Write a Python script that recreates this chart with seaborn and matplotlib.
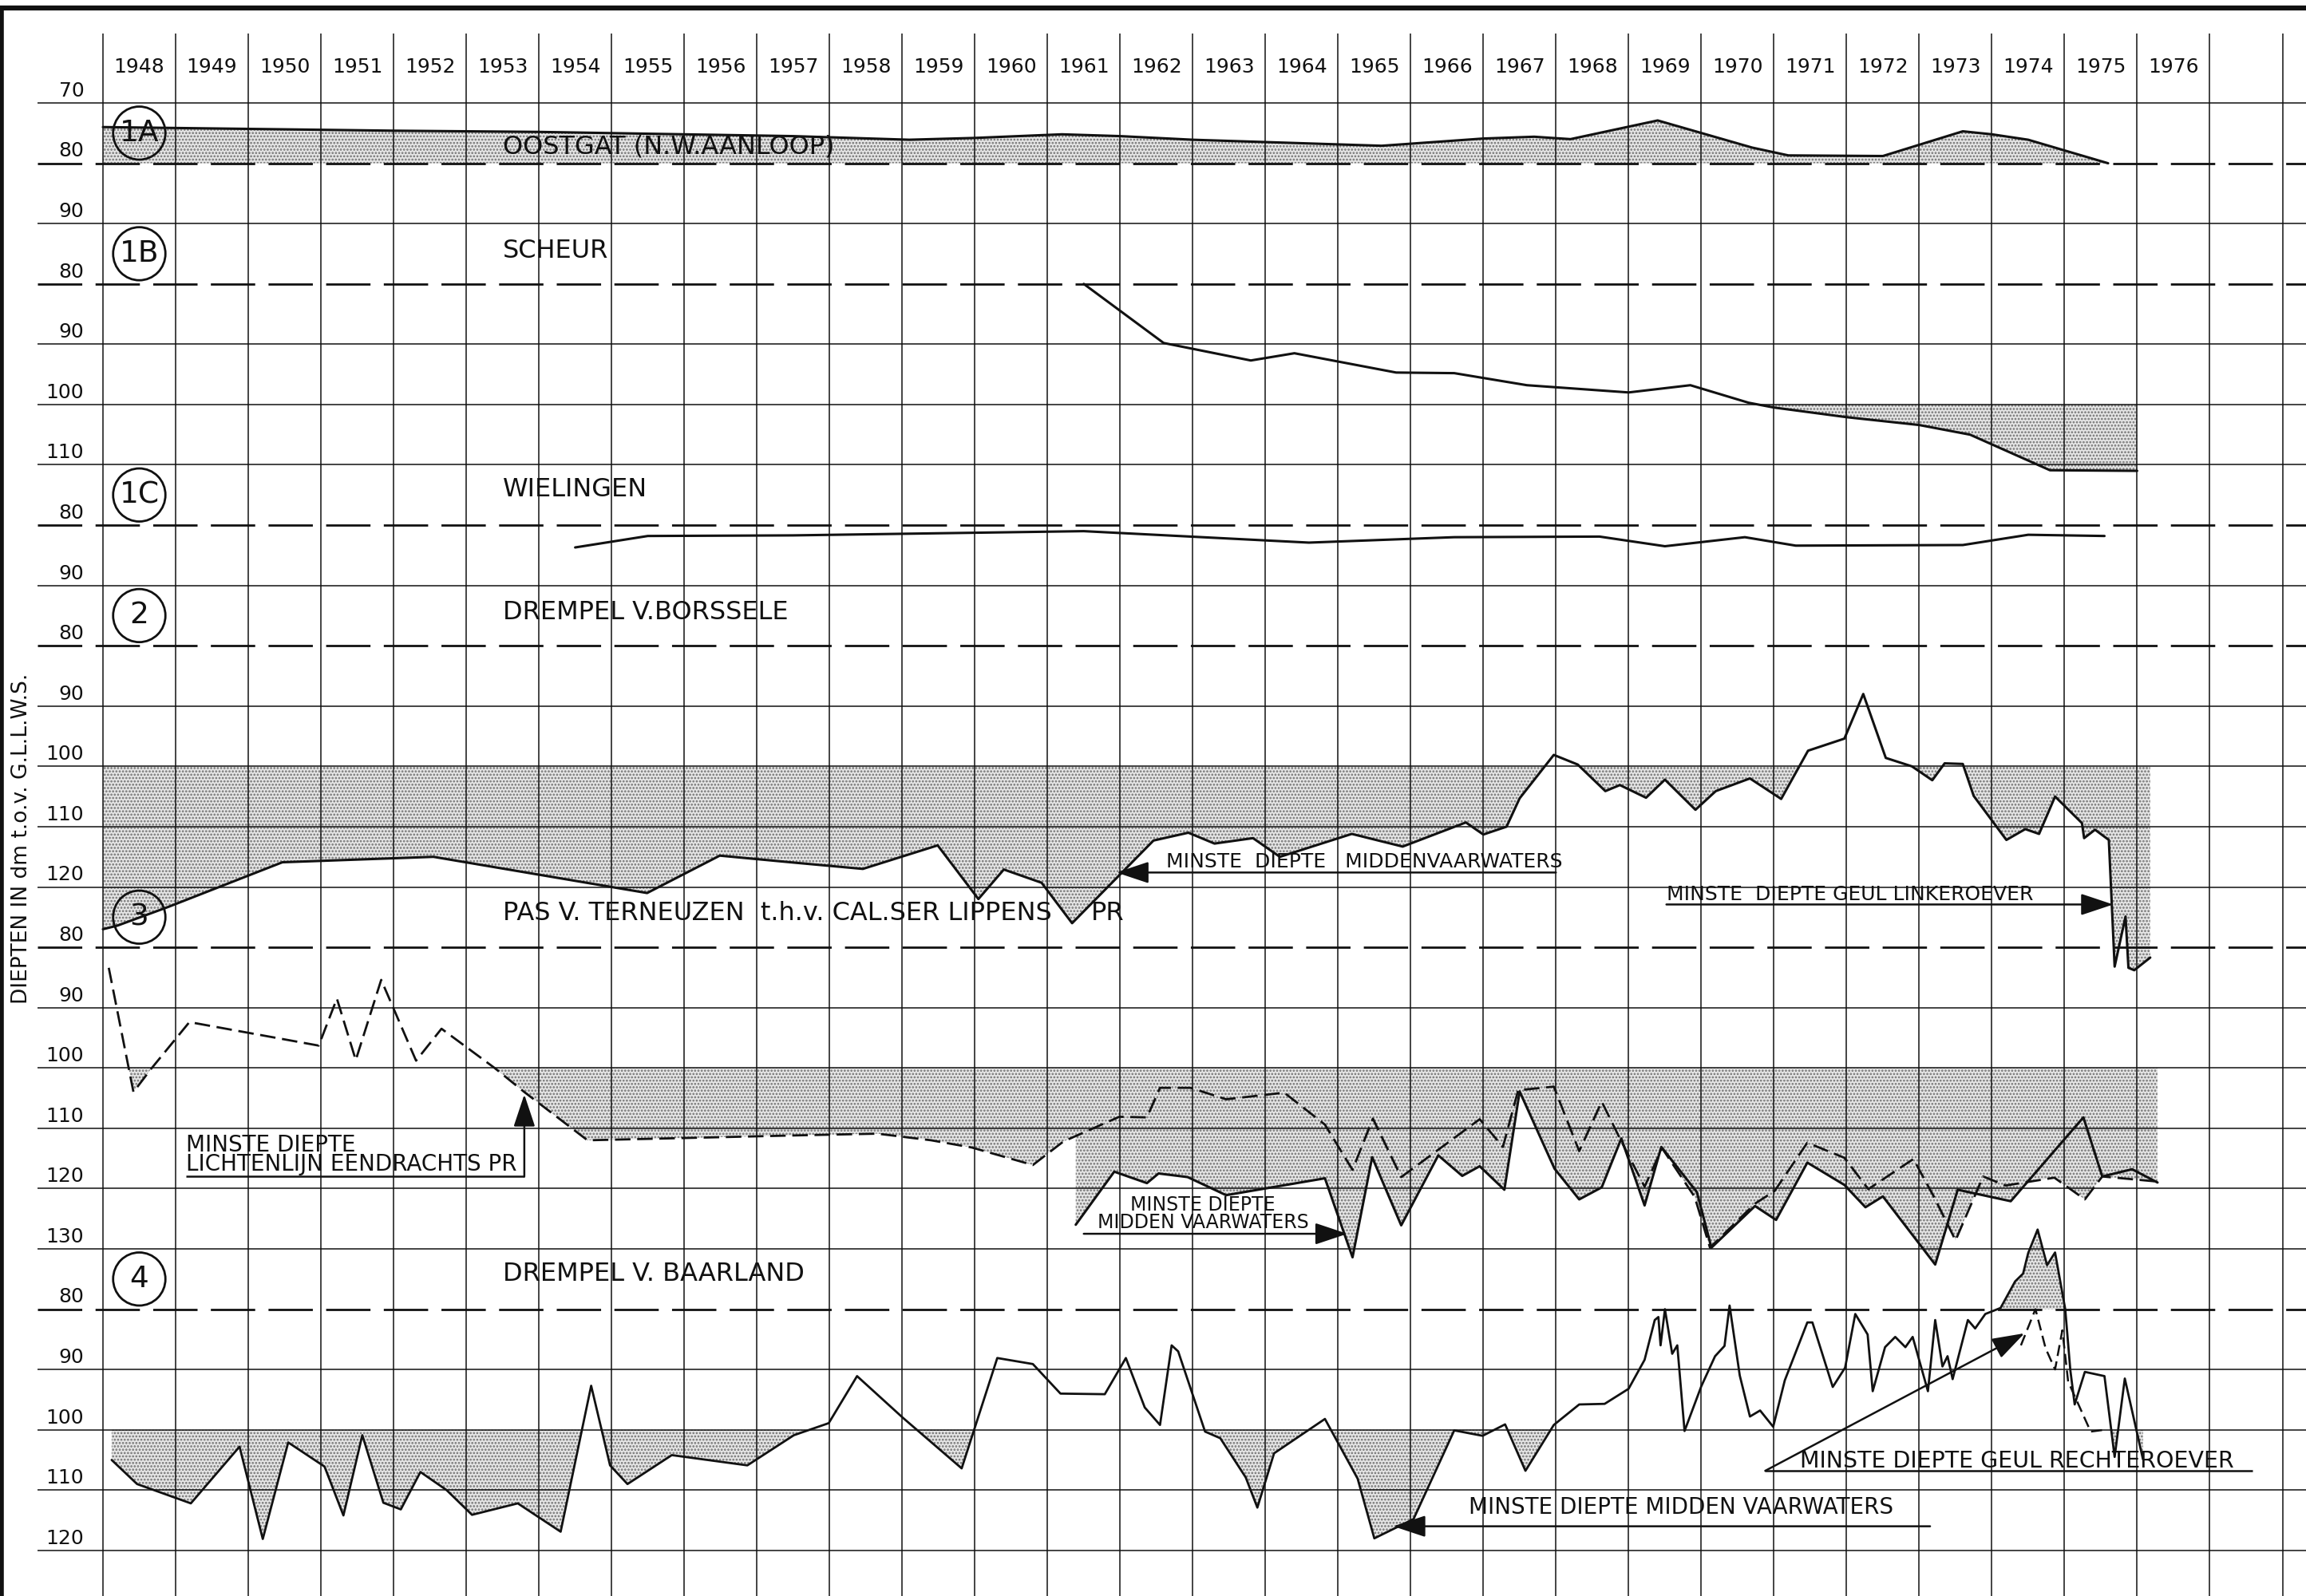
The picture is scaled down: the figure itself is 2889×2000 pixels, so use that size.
import numpy as np
import pandas as pd
import matplotlib
matplotlib.use("Agg")
import matplotlib.pyplot as plt
from matplotlib.patches import Ellipse
import seaborn as sns

# ---------------------------------------------------------------------------
# Data: least depths (dm below G.L.L.W.S.) per sill, by survey date
# ---------------------------------------------------------------------------
year_labels = list(range(1948, 1977))
row_labels = ["70", "80", "90", "80", "90", "100", "110", "80", "90", "80", "90",
              "100", "110", "120", "80", "90", "100", "110", "120", "130",
              "80", "90", "100", "110", "120"]
dashed_rows = [1, 3, 7, 9, 14, 20]          # the 80 dm reference of each panel

# panel -> grid row of its 80 dm line
panel_base = {"1A": 1, "1B": 3, "1C": 7, "2": 9, "3": 14, "4": 20}

oostgat_years = [1948.0, 1950.0, 1952.0, 1954.0, 1956.0, 1957.5, 1959.1, 1960.0,
                 1961.2, 1962.0, 1963.0, 1965.6, 1967.0, 1967.7, 1968.2, 1969.4,
                 1970.7, 1971.2, 1972.5, 1973.6, 1974.0, 1974.5, 1975.6]
oostgat_depth = [74.0, 74.3, 74.6, 74.8, 75.2, 75.5, 76.1, 75.8,
                 75.2, 75.5, 76.1, 77.1, 75.9, 75.6, 76.0, 72.9,
                 77.4, 78.7, 78.8, 74.7, 75.2, 76.1, 80.0]

scheur_years = [1961.5, 1962.6, 1963.8, 1964.4, 1965.8, 1966.6, 1967.6, 1969.0,
                1969.85, 1970.65, 1971.0, 1972.0, 1973.0, 1973.7, 1974.8, 1976.0]
scheur_depth = [80.0, 89.8, 92.7, 91.5, 94.7, 94.8, 96.8, 98.0,
                96.8, 99.7, 100.5, 102.1, 103.4, 105.0, 110.9, 111.0]

wielingen_years = [1954.5, 1955.5, 1957.5, 1961.5, 1964.6, 1966.6, 1968.6, 1969.5,
                   1970.6, 1971.3, 1973.6, 1974.5, 1975.55]
wielingen_depth = [83.7, 81.8, 81.7, 81.0, 82.9, 82.0, 81.9, 83.5,
                   82.0, 83.4, 83.3, 81.6, 81.8]

borssele_years = [1948.0, 1948.2, 1948.9, 1950.47, 1952.55, 1955.49, 1956.49, 1957.55,
                  1958.46, 1959.49, 1960.05, 1960.4, 1960.92, 1961.34, 1962.46, 1962.94,
                  1963.3, 1963.83, 1964.2, 1965.19, 1965.89, 1966.76, 1967.0, 1967.32,
                  1967.5, 1967.97, 1968.3, 1968.68, 1968.88, 1969.24, 1969.5, 1969.92,
                  1970.2, 1970.67, 1971.1, 1971.47, 1971.97, 1972.23, 1972.54, 1972.9,
                  1973.18, 1973.35, 1973.6, 1973.75, 1974.2, 1974.46, 1974.65, 1974.87,
                  1975.24, 1975.27, 1975.42, 1975.61, 1975.69, 1975.84, 1975.88, 1975.96,
                  1976.18]
borssele_depth = [127.0, 126.4, 123.3, 115.9, 115.0, 121.0, 114.8, 116.0,
                  117.0, 113.1, 122.0, 117.1, 119.3, 126.0, 112.3, 111.0,
                  112.8, 111.9, 115.0, 111.2, 113.3, 109.3, 111.3, 110.0,
                  105.3, 98.1, 99.7, 104.1, 103.1, 105.2, 102.2, 107.2,
                  104.1, 102.0, 105.4, 97.4, 95.4, 88.0, 98.6, 100.0,
                  102.3, 99.5, 99.6, 104.9, 112.2, 110.4, 111.2, 105.0,
                  109.4, 111.9, 110.5, 112.2, 133.2, 124.9, 133.4, 133.8,
                  131.7]

lichtenlijn_years = [1948.08, 1948.42, 1948.66, 1949.19, 1950.97, 1951.22, 1951.48, 1951.83,
                     1952.31, 1952.66, 1953.39, 1953.8, 1954.67, 1957.5, 1958.66, 1959.4,
                     1959.96, 1960.8, 1961.22, 1961.99, 1962.37, 1962.55, 1962.97, 1963.46,
                     1964.26, 1964.82, 1965.2, 1965.48, 1965.87, 1966.95, 1967.27, 1967.48,
                     1967.97, 1968.32, 1968.63, 1968.88, 1969.22, 1969.46, 1969.91, 1970.12,
                     1970.74, 1971.01, 1971.46, 1971.97, 1972.3, 1972.92, 1973.2, 1973.5,
                     1973.88, 1974.19, 1974.86, 1975.28, 1975.52, 1976.24]
lichtenlijn_depth = [83.4, 104.0, 100.2, 92.4, 96.3, 88.5, 98.7, 85.4,
                     98.8, 93.5, 100.0, 104.0, 112.0, 111.2, 110.9, 112.0,
                     113.2, 116.1, 112.2, 108.1, 108.2, 103.3, 103.3, 105.2,
                     104.1, 109.4, 116.9, 108.4, 118.1, 108.5, 113.1, 103.7,
                     103.1, 113.8, 105.6, 111.7, 119.7, 113.3, 121.4, 129.8,
                     122.5, 120.4, 112.4, 114.9, 120.1, 115.1, 121.3, 128.6,
                     118.0, 119.5, 118.2, 121.8, 118.0, 118.8]

terneuzen_mid_years = [1961.39, 1961.92, 1962.37, 1962.53, 1962.93, 1963.46, 1964.82, 1965.2,
                       1965.47, 1965.87, 1966.38, 1966.71, 1966.95, 1967.29, 1967.5, 1967.98,
                       1968.32, 1968.63, 1968.9, 1969.22, 1969.45, 1969.94, 1970.14, 1970.74,
                       1971.03, 1971.46, 1971.97, 1972.26, 1972.5, 1973.22, 1973.53, 1974.26,
                       1975.26, 1975.52, 1975.93, 1976.28]
terneuzen_mid_depth = [126.0, 117.2, 119.1, 117.5, 118.1, 121.1, 118.3, 131.4,
                       114.8, 126.1, 114.5, 117.9, 116.3, 120.2, 103.9, 116.7,
                       121.8, 119.8, 111.7, 122.8, 113.1, 120.6, 129.8, 122.9,
                       125.2, 115.7, 119.4, 123.1, 121.3, 132.6, 120.2, 122.1,
                       108.2, 118.0, 116.8, 119.0]

baarland_years = [1948.12, 1948.47, 1949.21, 1949.88, 1950.2, 1950.55, 1951.05, 1951.31,
                  1951.57, 1951.86, 1952.1, 1952.37, 1952.73, 1953.08, 1953.71, 1954.3,
                  1954.72, 1954.98, 1955.22, 1955.83, 1956.87, 1957.51, 1957.99, 1958.38,
                  1959.01, 1959.82, 1960.31, 1960.8, 1961.18, 1961.79, 1962.08, 1962.34,
                  1962.55, 1962.71, 1962.8, 1963.17, 1963.38, 1963.73, 1963.89, 1964.12,
                  1964.82, 1965.27, 1965.5, 1966.04, 1966.6, 1966.99, 1967.3, 1967.58,
                  1967.97, 1968.32, 1968.67, 1969.0, 1969.22, 1969.36, 1969.41, 1969.44,
                  1969.5, 1969.6, 1969.67, 1969.77, 1970.0, 1970.19, 1970.32, 1970.39,
                  1970.53, 1970.67, 1970.81, 1970.99, 1971.15, 1971.46, 1971.53, 1971.81,
                  1971.98, 1972.12, 1972.29, 1972.36, 1972.53, 1972.67, 1972.81, 1972.91,
                  1973.12, 1973.22, 1973.32, 1973.39, 1973.46, 1973.67, 1973.77, 1973.91,
                  1974.12, 1974.32, 1974.43, 1974.5, 1974.63, 1974.76, 1974.87, 1975.01,
                  1975.08, 1975.14, 1975.28, 1975.55, 1975.69, 1975.83, 1976.08]
baarland_depth = [105.0, 109.0, 112.2, 102.8, 118.1, 102.1, 106.1, 114.2,
                  100.9, 112.1, 113.2, 107.0, 110.0, 114.1, 112.2, 116.9,
                  92.7, 105.9, 109.0, 104.2, 105.9, 100.9, 98.9, 91.1,
                  98.0, 106.4, 88.1, 89.1, 94.0, 94.1, 88.1, 96.3,
                  99.2, 86.0, 87.0, 100.3, 101.4, 107.9, 112.9, 103.9,
                  98.2, 108.1, 118.0, 114.8, 100.1, 101.0, 99.1, 106.8,
                  99.2, 95.8, 95.7, 93.2, 88.4, 81.8, 81.3, 86.0,
                  80.0, 87.4, 86.0, 100.2, 92.8, 87.8, 86.1, 79.4,
                  91.0, 97.8, 96.8, 99.5, 91.8, 82.2, 82.2, 92.9,
                  89.7, 80.8, 84.2, 93.6, 86.3, 84.6, 86.3, 84.6,
                  93.6, 81.8, 89.5, 87.8, 91.6, 81.8, 83.2, 80.8,
                  79.8, 75.4, 74.1, 70.7, 66.8, 72.7, 70.6, 80.0,
                  90.1, 95.8, 90.4, 91.1, 104.5, 91.5, 104.9]

rechteroever_years = [1974.4, 1974.6, 1974.74, 1974.87, 1974.97, 1975.05, 1975.36, 1975.55]
rechteroever_depth = [86.0, 80.0, 86.5, 90.0, 83.5, 92.0, 100.3, 100.0]

# ---------------------------------------------------------------------------
sns.set_theme(style="white")
plt.rcParams["font.family"] = ["DejaVu Sans"]
plt.rcParams["lines.scale_dashes"] = False
plt.rcParams["hatch.linewidth"] = 1.3

INK = "#111111"
FILL_FACE = "#e6e6e6"
FILL_DOTS = "#727272"


def to_row(panel, depth):
    return panel_base[panel] + (np.asarray(depth, dtype=float) - 80.0) / 10.0


fig = plt.figure(figsize=(28.89, 20.0), dpi=100)
ax = fig.add_axes([0, 0, 1, 1])
fig.patch.set_facecolor("white")

# grid: one column per year, one row per 10 dm
col_edges = np.arange(1948, 1979)
ax.vlines(col_edges, -1.15, 25.5, color=INK, lw=1.1, zorder=2)
for r, lab in enumerate(row_labels):
    if r in dashed_rows:
        ax.hlines(r, 1947.1, 1978.6, color=INK, lw=2.0, linestyles=[(0, (40, 12))], zorder=2)
    else:
        ax.hlines(r, 1947.1, 1978.6, color=INK, lw=1.1, zorder=2)
    ax.text(1947.74, r - 0.2, lab, ha="right", va="center", fontsize=18, color=INK)

for yr in year_labels:
    ax.text(yr + 0.5, -0.6, str(yr), ha="center", va="center", fontsize=18, color=INK)

# sheet border
ax.hlines(-1.57, 1946.55, 1978.6, color=INK, lw=4.5, zorder=2)
ax.vlines(1946.61, -1.6, 25.5, color=INK, lw=4.0, zorder=2)

ax.text(1946.88, 12.2, "DIEPTEN IN dm t.o.v. G.L.L.W.S.", rotation=90,
        ha="center", va="center", fontsize=19, color=INK)


def shade(years, depth, panel, ref, deeper=True):
    x = np.asarray(years, dtype=float)
    r = to_row(panel, depth)
    r0 = float(to_row(panel, ref))
    where = r >= r0 if deeper else r <= r0
    ax.fill_between(x, r0, r, where=where, interpolate=True, facecolor=FILL_FACE,
                    hatch="....", edgecolor=FILL_DOTS, linewidth=0, zorder=1)


def trace(years, depth, panel, style="-", lw=2.2):
    df = pd.DataFrame({"jaar": years, "rij": to_row(panel, depth)})
    sns.lineplot(data=df, x="jaar", y="rij", ax=ax, color=INK, lw=lw,
                 sort=False, estimator=None, linestyle=style, zorder=3)


# 1A Oostgat: shaded between line and the 80 dm reference
shade(oostgat_years, oostgat_depth, "1A", 80.0, deeper=False)
trace(oostgat_years, oostgat_depth, "1A")

# 1B Scheur
shade(scheur_years, scheur_depth, "1B", 100.0)
trace(scheur_years, scheur_depth, "1B")

# 1C Wielingen
trace(wielingen_years, wielingen_depth, "1C")

# 2 Drempel v. Borssele
shade(borssele_years, borssele_depth, "2", 100.0)
trace(borssele_years, borssele_depth, "2")

# 3 Pas v. Terneuzen
shade(lichtenlijn_years, lichtenlijn_depth, "3", 100.0)
shade(terneuzen_mid_years, terneuzen_mid_depth, "3", 100.0)
trace(lichtenlijn_years, lichtenlijn_depth, "3", style=(0, (14, 6)), lw=2.0)
trace(terneuzen_mid_years, terneuzen_mid_depth, "3")

# 4 Drempel v. Baarland
shade(baarland_years, baarland_depth, "4", 100.0)
shade(baarland_years, baarland_depth, "4", 80.0, deeper=False)
trace(baarland_years, baarland_depth, "4", lw=2.0)
trace(rechteroever_years, rechteroever_depth, "4", style=(0, (10, 5)), lw=1.8)

# panel numbers in circles and panel titles
panel_marks = [("1A", "1A"), ("1B", "1B"), ("1C", "1C"), ("2", "2"), ("3", "3"), ("4", "4")]
for panel, mark in panel_marks:
    rc = panel_base[panel] - 0.5
    ax.add_patch(Ellipse((1948.5, rc), 0.72, 0.88, fill=False, ec=INK, lw=2.0, zorder=4))
    ax.text(1948.5, rc, mark, ha="center", va="center", fontsize=27, color=INK, zorder=5)

titles = [("1A", 0.73, "OOSTGAT (N.W.AANLOOP)"),
          ("1B", 2.45, "SCHEUR"),
          ("1C", 6.41, "WIELINGEN"),
          ("2", 8.45, "DREMPEL V.BORSSELE"),
          ("3", 13.44, "PAS V. TERNEUZEN  t.h.v. CAL.SER LIPPENS"),
          ("4", 19.42, "DREMPEL V. BAARLAND")]
for panel, rr, txt in titles:
    ax.text(1953.5, rr, txt, ha="left", va="center", fontsize=23, color=INK, zorder=5)
ax.text(1961.6, 13.44, "PR", ha="left", va="center", fontsize=23, color=INK, zorder=5)

arrow_kw = dict(arrowstyle="-|>,head_length=0.9,head_width=0.3", lw=1.8, color=INK,
                shrinkA=0, shrinkB=0, mutation_scale=28)

# panel 2 notes
y_a = float(to_row("2", 117.6))
ax.annotate("", xy=(1961.95, y_a), xytext=(1968.0, y_a), arrowprops=arrow_kw, zorder=5)
ax.text(1962.64, float(to_row("2", 116.7)), "MINSTE  DIEPTE   MIDDENVAARWATERS",
        ha="left", va="baseline", fontsize=18, color=INK)
y_b = float(to_row("2", 122.9))
ax.annotate("", xy=(1975.67, y_b), xytext=(1969.52, y_b), arrowprops=arrow_kw, zorder=5)
ax.text(1969.52, float(to_row("2", 122.2)), "MINSTE  DIEPTE GEUL LINKEROEVER",
        ha="left", va="baseline", fontsize=18, color=INK)

# panel 3 notes
y_c = float(to_row("3", 118.0))
ax.hlines(y_c, 1949.14, 1953.8, color=INK, lw=1.8, zorder=5)
ax.annotate("", xy=(1953.8, float(to_row("3", 104.4))), xytext=(1953.8, y_c),
            arrowprops=arrow_kw, zorder=5)
ax.text(1949.14, float(to_row("3", 113.9)), "MINSTE DIEPTE", ha="left", va="baseline",
        fontsize=20, color=INK)
ax.text(1949.14, float(to_row("3", 117.1)), "LICHTENLIJN EENDRACHTS PR", ha="left",
        va="baseline", fontsize=20, color=INK)
y_d = float(to_row("3", 127.5))
ax.annotate("", xy=(1965.13, y_d), xytext=(1961.5, y_d), arrowprops=arrow_kw, zorder=5)
ax.text(1963.14, float(to_row("3", 123.6)), "MINSTE DIEPTE", ha="center", va="baseline",
        fontsize=17, color=INK)
ax.text(1963.14, float(to_row("3", 126.6)), "MIDDEN VAARWATERS", ha="center", va="baseline",
        fontsize=17, color=INK)

# panel 4 notes
y_e = float(to_row("4", 116.0))
ax.annotate("", xy=(1965.76, y_e), xytext=(1973.15, y_e), arrowprops=arrow_kw, zorder=5)
ax.text(1966.8, float(to_row("4", 113.9)), "MINSTE DIEPTE MIDDEN VAARWATERS",
        ha="left", va="baseline", fontsize=20, color=INK)
y_f = float(to_row("4", 106.8))
ax.hlines(y_f, 1970.88, 1977.59, color=INK, lw=1.8, zorder=5)
ax.annotate("", xy=(1974.45, float(to_row("4", 84.0))), xytext=(1970.88, y_f),
            arrowprops=arrow_kw, zorder=5)
ax.text(1971.36, float(to_row("4", 106.2)), "MINSTE DIEPTE GEUL RECHTEROEVER",
        ha="left", va="baseline", fontsize=20.5, color=INK)

ax.set_xlim(1946.583, 1978.324)
ax.set_ylim(24.756, -1.707)
ax.axis("off")

fig.savefig("out.png", dpi=100, facecolor="white")
